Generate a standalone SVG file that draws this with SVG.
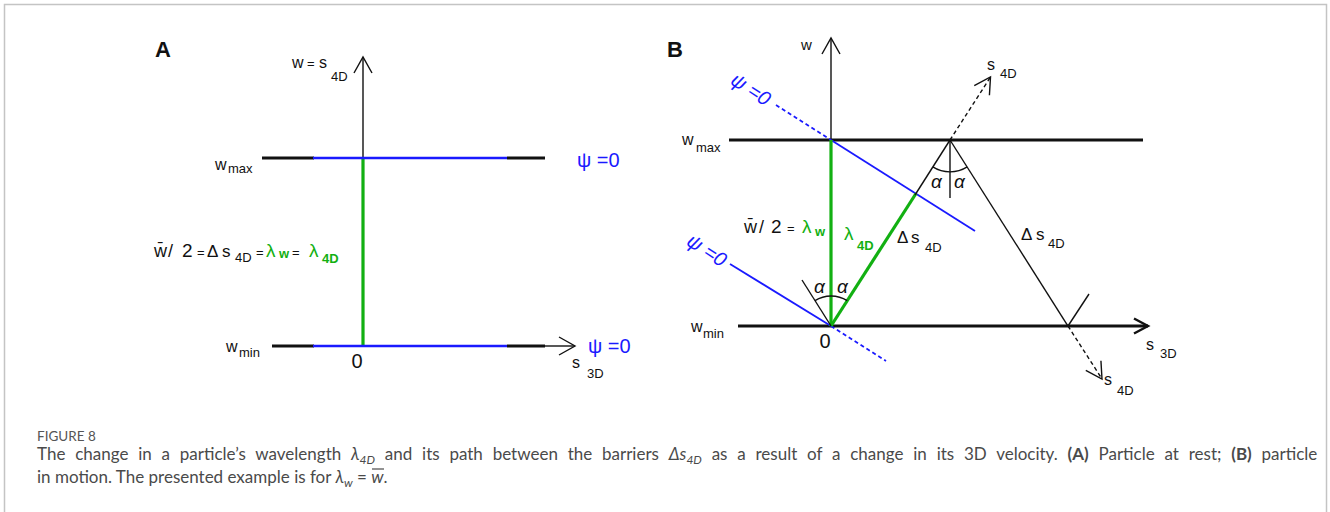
<svg xmlns="http://www.w3.org/2000/svg" width="1330" height="512" viewBox="0 0 1330 512">
<style>
.t{font-family:"Liberation Sans",Arial,sans-serif;fill:#111}
.b{fill:#1a1aff}
.g{fill:#12b012}
.big{font-size:20px}
.m{font-size:16px}
.s{font-size:13px}
.thin{stroke:#111;stroke-width:1.4;fill:none}
.thick{stroke:#111;stroke-width:3.2;fill:none}
.blue{stroke:#1a1aff;stroke-width:1.8;fill:none}
.green{stroke:#12b012;stroke-width:3.2;fill:none}
.dash{stroke-dasharray:4 3}
.cap{font-family:Lato,"Open Sans",sans-serif;fill:#4a4a4a;font-size:17px}
</style>
<defs>
<marker id="arr" markerUnits="userSpaceOnUse" viewBox="-20 -12 24 24" markerWidth="24" markerHeight="24" refX="0" refY="0" orient="auto" overflow="visible">
<path d="M-16,-9 L0,0 L-16,9" fill="none" stroke="#111" stroke-width="1.4"/>
</marker>
<marker id="arrT" markerUnits="userSpaceOnUse" viewBox="-20 -12 24 24" markerWidth="24" markerHeight="24" refX="0" refY="0" orient="auto" overflow="visible">
<path d="M-14,-7.5 L0,0 L-14,7.5" fill="none" stroke="#111" stroke-width="2.4"/>
</marker>
</defs>
<rect x="4.5" y="4.5" width="1322" height="540" fill="none" stroke="#c4c4c4" stroke-width="1.5"/>

<g id="connectors">
<!-- Panel A -->
<line class="thin" x1="363" y1="158" x2="363" y2="57" marker-end="url(#arr)"/>
<line class="green" x1="363" y1="158" x2="363" y2="346"/>
<line class="thick" x1="262" y1="158" x2="314" y2="158"/>
<line class="blue" x1="313" y1="158" x2="507" y2="158" style="stroke-width:2.4"/>
<line class="thick" x1="507" y1="158" x2="545" y2="158"/>
<line class="thick" x1="272" y1="346" x2="314" y2="346"/>
<line class="blue" x1="313" y1="346" x2="507" y2="346" style="stroke-width:2.4"/>
<line class="thick" x1="507" y1="346" x2="545" y2="346"/>
<line class="thin" x1="544" y1="346" x2="575" y2="346" marker-end="url(#arr)"/>
<!-- Panel B -->
<line class="thin" x1="831" y1="140" x2="831" y2="38" marker-end="url(#arr)"/>
<line class="thick" x1="729" y1="140" x2="1143" y2="140"/>
<line class="thick" x1="738" y1="326" x2="1148" y2="326" marker-end="url(#arrT)"/>
<line class="blue dash" x1="776" y1="105" x2="831" y2="140"/>
<line class="blue" x1="831" y1="140" x2="975" y2="231"/>
<line class="blue" x1="730" y1="264" x2="831" y2="326"/>
<line class="blue dash" x1="831" y1="326" x2="886" y2="361"/>
<line class="green" x1="831" y1="140" x2="831" y2="326"/>
<line class="green" x1="831" y1="326" x2="916" y2="193.5"/>
<line class="thin" x1="915" y1="195" x2="950" y2="140"/>
<line class="thin" x1="950" y1="140" x2="1068" y2="326"/>
<line class="thin dash" x1="950" y1="140" x2="990.5" y2="77" marker-end="url(#arr)"/>
<line class="thin" x1="950" y1="140" x2="950" y2="198"/>
<path class="thin" d="M932.8,166.9 A32,32 0 0 0 967.2,166.9"/>
<line class="thin" x1="831" y1="326" x2="802" y2="280"/>
<path class="thin" d="M815,300.6 A30,30 0 0 1 847.2,300.7"/>
<line class="thin" x1="1068" y1="326" x2="1089" y2="294"/>
<line class="thin dash" x1="1068" y1="326" x2="1102" y2="379" marker-end="url(#arr)"/>
</g>

<g id="panelA-labels">
<text class="t" x="155" y="57" style="font-size:22px;font-weight:bold">A</text>
<text class="t m" x="292" y="68">w<tspan x="307" style="font-size:13px">=</tspan><tspan x="319">s</tspan><tspan class="s" x="331" y="81">4D</tspan></text>
<text class="t m" x="215" y="170">w<tspan class="s" x="228" y="173">max</tspan></text>
<text class="t b big" x="577" y="167">ψ =0</text>
<text class="t m" x="226" y="352">w<tspan class="s" x="239" y="357">min</tspan></text>
<text class="t big" x="357" y="368" text-anchor="middle">0</text>
<text class="t b big" x="588" y="353">ψ =0</text>
<text class="t m" x="572" y="368">s<tspan class="s" x="587" y="378">3D</tspan></text>
<text class="t" x="154" y="257" style="font-size:18px">w̄<tspan x="168">/</tspan><tspan x="182" style="font-size:19px">2</tspan><tspan x="197" style="font-size:13px">=</tspan><tspan x="207" style="font-size:17px">Δ</tspan><tspan x="222" style="font-size:17px">s</tspan><tspan class="s" x="235" y="262">4D</tspan><tspan x="256" y="257" style="font-size:13px">=</tspan><tspan class="g" x="266" style="font-size:19px">λ</tspan><tspan class="g" x="279" y="258" style="font-size:13px;font-weight:bold">w</tspan><tspan x="292" y="257" style="font-size:13px">=</tspan><tspan class="g" x="309" style="font-size:19px">λ</tspan><tspan class="g s" x="322" y="263" style="font-weight:bold">4D</tspan></text>
</g>

<g id="panelB-labels">
<text class="t" x="667" y="57" style="font-size:22px;font-weight:bold">B</text>
<text class="t" x="801" y="50" style="font-size:15px">w</text>
<text class="t m" x="682" y="145">w<tspan class="s" x="696" y="152">max</tspan></text>
<text class="t b big" x="751" y="96" text-anchor="middle" transform="rotate(33 751 89)" style="font-style:italic">ψ =0</text>
<text class="t b big" x="707" y="257" text-anchor="middle" transform="rotate(33 707 250)" style="font-style:italic">ψ =0</text>
<text class="t" x="931" y="188" style="font-size:19px;font-style:italic">α</text>
<text class="t" x="954" y="188" style="font-size:19px;font-style:italic">α</text>
<text class="t" x="814" y="293" style="font-size:19px;font-style:italic">α</text>
<text class="t" x="837" y="293" style="font-size:19px;font-style:italic">α</text>
<text class="t" x="744" y="233" style="font-size:18px">w̄<tspan x="759">/</tspan><tspan x="771" style="font-size:19px">2</tspan><tspan x="787" style="font-size:13px">=</tspan><tspan class="g" x="802" style="font-size:19px">λ</tspan><tspan class="g" x="815" y="236" style="font-size:13px;font-weight:bold">w</tspan></text>
<text class="t g" x="844" y="240" style="font-size:19px">λ<tspan class="s" x="857" y="250" style="font-weight:bold">4D</tspan></text>
<text class="t" x="897" y="243" style="font-size:17px">Δ<tspan x="911">s</tspan><tspan class="s" x="925" y="252">4D</tspan></text>
<text class="t" x="1021" y="240" style="font-size:17px">Δ<tspan x="1036">s</tspan><tspan class="s" x="1048" y="248">4D</tspan></text>
<text class="t m" x="691" y="332">w<tspan class="s" x="703" y="338">min</tspan></text>
<text class="t big" x="825" y="348" text-anchor="middle">0</text>
<text class="t m" x="1146" y="350">s<tspan class="s" x="1160" y="358">3D</tspan></text>
<text class="t m" x="1104" y="385">s<tspan class="s" x="1117" y="395">4D</tspan></text>
<text class="t m" x="987" y="70">s<tspan class="s" x="1000" y="78">4D</tspan></text>
</g>

<g id="caption">
<text class="cap" x="37" y="441" style="font-size:13.5px;fill:#555">FIGURE 8</text>
<text class="cap" x="37" y="460" style="word-spacing:5.45px">The change in a particle’s wavelength <tspan style="font-style:italic">λ</tspan><tspan style="font-style:italic;font-size:12px" dy="4">4D</tspan><tspan dy="-4"> and its path between the barriers </tspan><tspan style="font-style:italic">Δs</tspan><tspan style="font-style:italic;font-size:12px" dy="4">4D</tspan><tspan dy="-4"> as a result of a change in its 3D velocity. </tspan><tspan style="font-weight:bold">(A)</tspan> Particle at rest; <tspan style="font-weight:bold">(B)</tspan> particle</text>
<text class="cap" x="37" y="483">in motion. The presented example is for <tspan style="font-style:italic">λ</tspan><tspan style="font-style:italic;font-size:12px" dy="4">w</tspan><tspan dy="-4"> = </tspan><tspan style="font-style:italic">w</tspan>.</text>
<line x1="372" y1="469" x2="384" y2="469" stroke="#4a4a4a" stroke-width="1.2"/>
</g>
</svg>
